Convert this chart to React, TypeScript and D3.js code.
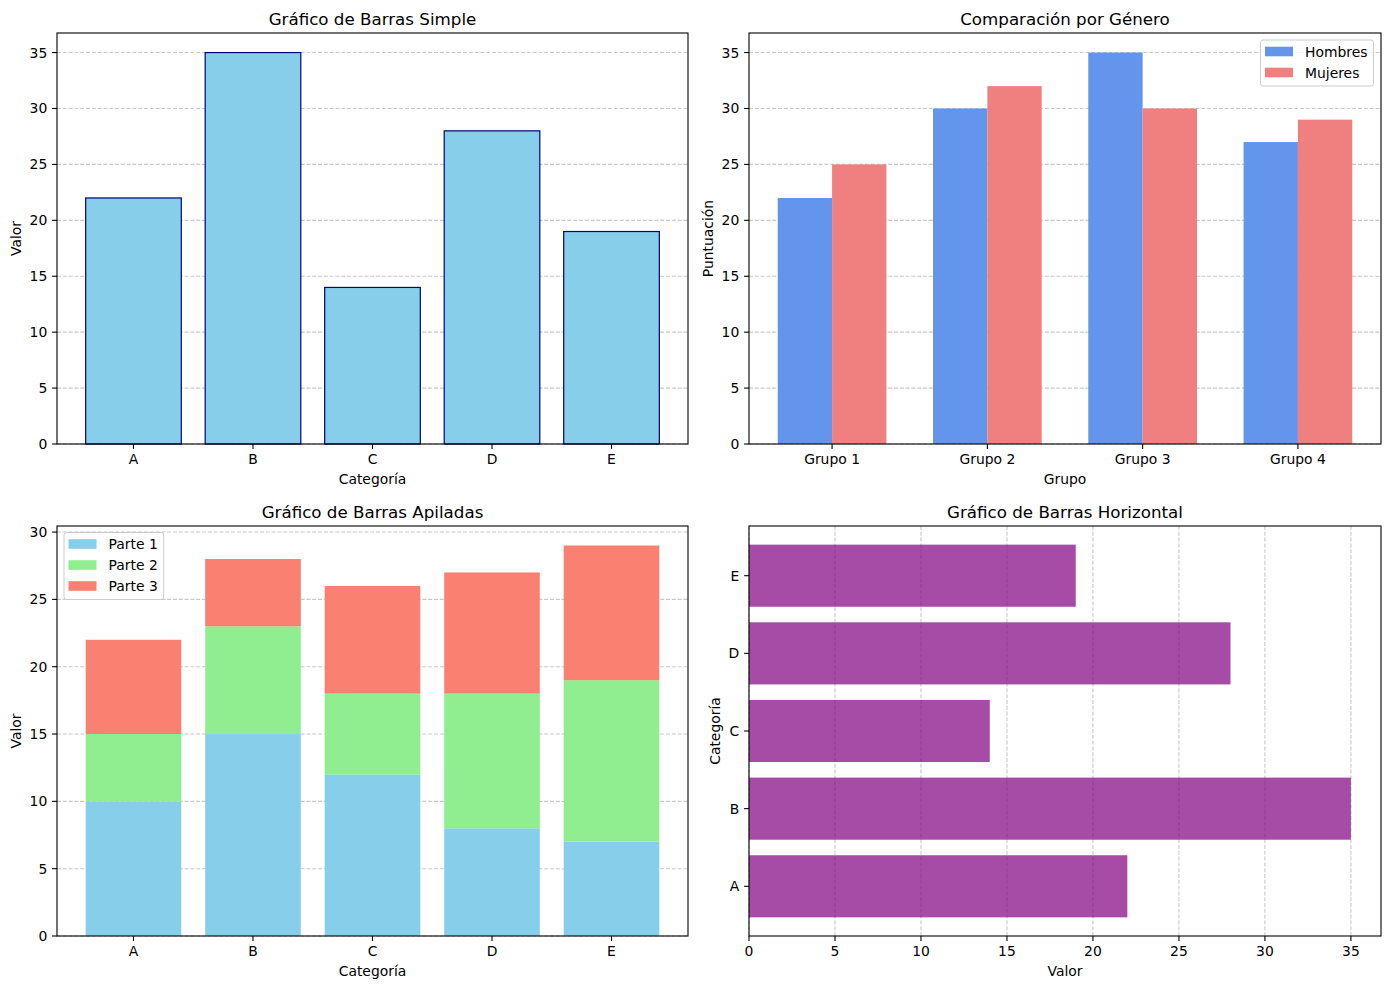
import React, { useRef, useEffect } from 'react';
import * as d3 from 'd3';

// datos
const categorias = ['A', 'B', 'C', 'D', 'E'];
const valores = [22, 35, 14, 28, 19];

const grupos = ['Grupo 1', 'Grupo 2', 'Grupo 3', 'Grupo 4'];
const hombres = [22, 30, 35, 27];
const mujeres = [25, 32, 30, 29];

const parte1 = [10, 15, 12, 8, 7];
const parte2 = [5, 8, 6, 10, 12];
const parte3 = [7, 5, 8, 9, 10];

const ticksValor = [0, 5, 10, 15, 20, 25, 30, 35];
const ticksApiladas = [0, 5, 10, 15, 20, 25, 30];

const FONT = 'DejaVu Sans, Verdana, sans-serif';
const FS = 13.9;
const TITLE_FS = 16.7;
const GRID = '#b0b0b0';

type Box = { x0: number; x1: number; y0: number; y1: number };
type Sel = d3.Selection<SVGGElement, unknown, null, undefined>;

const boxes: Record<string, Box> = {
  tl: { x0: 57, x1: 688, y0: 33, y1: 444 },
  tr: { x0: 749, x1: 1381, y0: 33, y1: 444 },
  bl: { x0: 57, x1: 688, y0: 526, y1: 936 },
  br: { x0: 749, x1: 1381, y0: 526, y1: 936 },
};

function txt(g: Sel, x: number, y: number, s: string, size = FS, anchor = 'middle') {
  return g.append('text')
    .attr('x', x).attr('y', y)
    .attr('font-family', FONT).attr('font-size', size)
    .attr('text-anchor', anchor).attr('fill', '#000')
    .text(s);
}

// marco, títulos y etiquetas
function decor(g: Sel, b: Box, title: string, xl: string, yl: string, ylx: number) {
  txt(g, (b.x0 + b.x1) / 2, b.y0 - 8.3, title, TITLE_FS);
  txt(g, (b.x0 + b.x1) / 2, b.y1 + 40, xl);
  g.append('text')
    .attr('transform', `translate(${ylx},${(b.y0 + b.y1) / 2}) rotate(-90)`)
    .attr('font-family', FONT).attr('font-size', FS)
    .attr('text-anchor', 'middle').attr('fill', '#000')
    .text(yl);
}

function spines(g: Sel, b: Box) {
  g.append('rect')
    .attr('x', b.x0).attr('y', b.y0)
    .attr('width', b.x1 - b.x0).attr('height', b.y1 - b.y0)
    .attr('fill', 'none').attr('stroke', '#000').attr('stroke-width', 1.1);
}

function yTicks(g: Sel, b: Box, y: d3.ScaleLinear<number, number>, ticks: number[], labels?: string[], grid = true) {
  ticks.forEach((t, i) => {
    const yy = y(t);
    if (grid) {
      g.append('line')
        .attr('x1', b.x0).attr('x2', b.x1).attr('y1', yy).attr('y2', yy)
        .attr('stroke', GRID).attr('stroke-opacity', 0.7).attr('stroke-width', 1.1)
        .attr('stroke-dasharray', '4,1.8').lower();
    }
    g.append('line')
      .attr('x1', b.x0 - 4.9).attr('x2', b.x0).attr('y1', yy).attr('y2', yy)
      .attr('stroke', '#000').attr('stroke-width', 1.1);
    txt(g, b.x0 - 9.7, yy + 5, labels ? labels[i] : String(t), FS, 'end');
  });
}

function xTicks(g: Sel, b: Box, x: d3.ScaleLinear<number, number>, ticks: number[], labels?: string[], grid = false) {
  ticks.forEach((t, i) => {
    const xx = x(t);
    if (grid) {
      g.append('line')
        .attr('x1', xx).attr('x2', xx).attr('y1', b.y0).attr('y2', b.y1)
        .attr('stroke', GRID).attr('stroke-opacity', 0.7).attr('stroke-width', 1.1)
        .attr('stroke-dasharray', '4,1.8').lower();
    }
    g.append('line')
      .attr('x1', xx).attr('x2', xx).attr('y1', b.y1).attr('y2', b.y1 + 4.9)
      .attr('stroke', '#000').attr('stroke-width', 1.1);
    txt(g, xx, b.y1 + 20.2, labels ? labels[i] : String(t));
  });
}

function legend(g: Sel, items: { label: string; color: string }[], ax: number, ay: number, align: 'left' | 'right') {
  const lg = g.append('g');
  const bg = lg.append('rect');
  const texts = items.map((it, i) => txt(lg as Sel, 0, ay + 11.5 + i * 21 + 5, it.label, FS, 'start'));
  const maxW = d3.max(texts, t => (t.node() as SVGTextElement).getComputedTextLength()) ?? 60;
  const w = 4.5 + 28 + 12 + maxW + 6;
  const h = 11.5 + (items.length - 1) * 21 + 13.5;
  const left = align === 'left' ? ax : ax - w;
  bg.attr('x', left).attr('y', ay).attr('width', w).attr('height', h)
    .attr('rx', 2.5).attr('fill', '#fff').attr('fill-opacity', 0.8)
    .attr('stroke', '#cccccc').attr('stroke-width', 1);
  items.forEach((it, i) => {
    const cy = ay + 11.5 + i * 21;
    lg.append('rect').attr('x', left + 4.5).attr('y', cy - 4.8)
      .attr('width', 28).attr('height', 9.6).attr('fill', it.color);
    texts[i].attr('x', left + 4.5 + 28 + 12);
  });
}

const App: React.FC = () => {
  const svgRef = useRef<SVGSVGElement | null>(null);

  useEffect(() => {
    document.body.style.margin = '0';
    if (!svgRef.current) return;
    const root = d3.select(svgRef.current);
    root.selectAll('*').remove();

    // 1. barras simples
    {
      const b = boxes.tl;
      const g = root.append('g') as Sel;
      const x = d3.scaleLinear().domain([-0.64, 4.64]).range([b.x0, b.x1]);
      const y = d3.scaleLinear().domain([0, 36.75]).range([b.y1, b.y0]);
      yTicks(g, b, y, ticksValor);
      g.selectAll('rect.bar').data(valores).enter().append('rect')
        .attr('class', 'bar')
        .attr('x', (_, i) => x(i - 0.4)).attr('width', x(0.4) - x(-0.4))
        .attr('y', d => y(d)).attr('height', d => y(0) - y(d))
        .attr('fill', 'skyblue').attr('stroke', 'navy').attr('stroke-width', 1.2);
      xTicks(g, b, x, categorias.map((_, i) => i), categorias);
      spines(g, b);
      decor(g, b, 'Gráfico de Barras Simple', 'Categoría', 'Valor', 20.5);
    }

    // 2. comparación por género
    {
      const b = boxes.tr;
      const g = root.append('g') as Sel;
      const x = d3.scaleLinear().domain([-0.535, 3.535]).range([b.x0, b.x1]);
      const y = d3.scaleLinear().domain([0, 36.75]).range([b.y1, b.y0]);
      const w = 0.35;
      yTicks(g, b, y, ticksValor);
      g.selectAll('rect.h').data(hombres).enter().append('rect')
        .attr('x', (_, i) => x(i - w)).attr('width', x(w) - x(0))
        .attr('y', d => y(d)).attr('height', d => y(0) - y(d))
        .attr('fill', 'cornflowerblue');
      g.selectAll('rect.m').data(mujeres).enter().append('rect')
        .attr('x', (_, i) => x(i)).attr('width', x(w) - x(0))
        .attr('y', d => y(d)).attr('height', d => y(0) - y(d))
        .attr('fill', 'lightcoral');
      xTicks(g, b, x, grupos.map((_, i) => i), grupos);
      spines(g, b);
      decor(g, b, 'Comparación por Género', 'Grupo', 'Puntuación', 713);
      legend(g, [
        { label: 'Hombres', color: 'cornflowerblue' },
        { label: 'Mujeres', color: 'lightcoral' },
      ], b.x1 - 7.5, b.y0 + 7, 'right');
    }

    // 3. barras apiladas
    {
      const b = boxes.bl;
      const g = root.append('g') as Sel;
      const x = d3.scaleLinear().domain([-0.64, 4.64]).range([b.x0, b.x1]);
      const y = d3.scaleLinear().domain([0, 30.45]).range([b.y1, b.y0]);
      yTicks(g, b, y, ticksApiladas);
      const rows = categorias.map((c, i) => ({ c, i, p1: parte1[i], p2: parte2[i], p3: parte3[i] }));
      const stack = d3.stack<typeof rows[number]>().keys(['p1', 'p2', 'p3'])(rows);
      const colors = ['skyblue', 'lightgreen', 'salmon'];
      stack.forEach((layer, k) => {
        g.selectAll(`rect.s${k}`).data(layer).enter().append('rect')
          .attr('x', d => x(d.data.i - 0.4)).attr('width', x(0.4) - x(-0.4))
          .attr('y', d => y(d[1])).attr('height', d => y(d[0]) - y(d[1]))
          .attr('fill', colors[k]);
      });
      xTicks(g, b, x, categorias.map((_, i) => i), categorias);
      spines(g, b);
      decor(g, b, 'Gráfico de Barras Apiladas', 'Categoría', 'Valor', 20.5);
      legend(g, [
        { label: 'Parte 1', color: 'skyblue' },
        { label: 'Parte 2', color: 'lightgreen' },
        { label: 'Parte 3', color: 'salmon' },
      ], b.x0 + 7, b.y0 + 6.5, 'left');
    }

    // 4. barras horizontales
    {
      const b = boxes.br;
      const g = root.append('g') as Sel;
      const x = d3.scaleLinear().domain([0, 36.75]).range([b.x0, b.x1]);
      const y = d3.scaleLinear().domain([-0.64, 4.64]).range([b.y1, b.y0]);
      xTicks(g, b, x, ticksValor, undefined, true);
      g.selectAll('rect.hb').data(valores).enter().append('rect')
        .attr('x', x(0)).attr('width', d => x(d) - x(0))
        .attr('y', (_, i) => y(i + 0.4)).attr('height', y(-0.4) - y(0.4))
        .attr('fill', 'purple').attr('fill-opacity', 0.7);
      yTicks(g, b, y, categorias.map((_, i) => i), categorias, false);
      spines(g, b);
      decor(g, b, 'Gráfico de Barras Horizontal', 'Valor', 'Categoría', 720);
    }
  }, []);

  return (
    <svg ref={svgRef} width={1389} height={990} style={{ display: 'block', background: '#fff' }} />
  );
};

export default App;
